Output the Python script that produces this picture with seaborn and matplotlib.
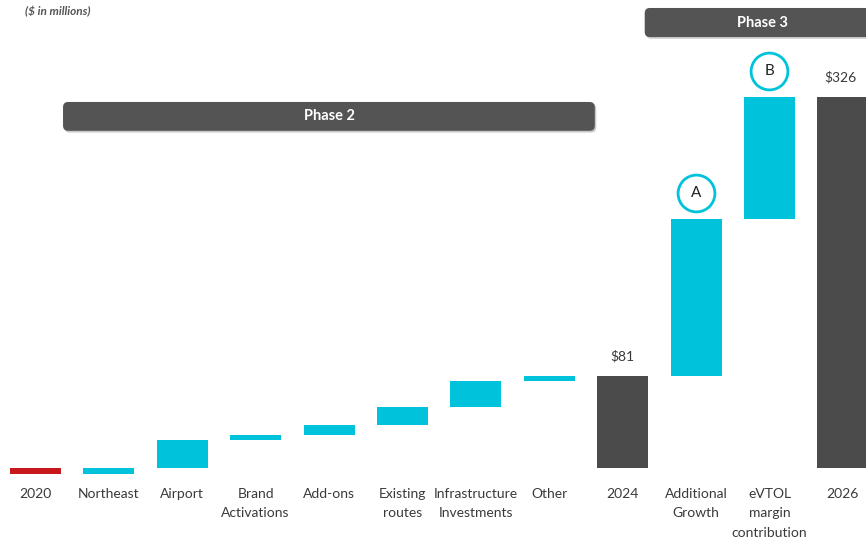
import matplotlib
matplotlib.use("Agg")
import matplotlib.pyplot as plt
from matplotlib.patches import FancyBboxPatch
from matplotlib.transforms import ScaledTranslation
import numpy as np
import pandas as pd
import seaborn as sns

# ---- data ($ in millions) ----
categories = ["2020", "Northeast", "Airport", "Brand\nActivations", "Add-ons",
              "Existing\nroutes", "Infrastructure\nInvestments", "Other", "2024",
              "Additional\nGrowth", "eVTOL\nmargin\ncontribution", "2026"]
value_2020 = -5
phase2_steps = [5, 25, 4, 9, 16, 23, 4]
value_2024 = 81
phase3_steps = [138, 107]
value_2026 = 326
phase3_tags = ["A", "B"]

# ---- build waterfall table ----
bottoms, heights, kinds = [0], [value_2020], ["start"]
level = value_2020
for s in phase2_steps:
    bottoms.append(level); heights.append(s); kinds.append("step"); level += s
bottoms.append(0); heights.append(value_2024); kinds.append("total")
level = value_2024
for s in phase3_steps:
    bottoms.append(level); heights.append(s); kinds.append("step"); level += s
bottoms.append(0); heights.append(value_2026); kinds.append("total")
df = pd.DataFrame({"category": categories, "bottom": bottoms,
                   "height": heights, "kind": kinds})
df["x"] = np.arange(len(df))

CYAN = "#00C3DB"
DARK = "#4b4b4b"
RED = "#C8181E"
BANNER = "#545454"
TEXT = "#3a3a3a"
palette = {"start": RED, "step": CYAN, "total": DARK}

sns.set_theme(style="white")
plt.rcParams["font.family"] = ["Lato", "DejaVu Sans"]

fig = plt.figure(figsize=(8.66, 5.39), dpi=100)
ax = fig.add_axes([0, 0.1058, 1, 0.8942])

ax.bar(df["x"], df["height"], bottom=df["bottom"], width=0.695,
       color=[palette[k] for k in df["kind"]], linewidth=0, zorder=2)

ax.set_xlim(-0.4837, 11.315)
ax.set_ylim(-12, 411)
ax.set_xticks(df["x"])
ax.set_xticklabels(df["category"], fontsize=10, color=TEXT, linespacing=1.75)
ax.tick_params(axis="x", length=0, pad=4)
ax.set_yticks([])
sns.despine(ax=ax, left=True, bottom=True)

# totals labels
for _, r in df[df["kind"] == "total"].iterrows():
    ax.annotate(f"${r['height']:.0f}", xy=(r["x"], r["bottom"] + r["height"]),
                xytext=(-2 if r["x"] == 11 else 0, 14), textcoords="offset points",
                ha="center", va="center", fontsize=10, color=TEXT)

# circled tags above phase 3 steps
tag_rows = df.iloc[9:11]
for tag, (_, r) in zip(phase3_tags, tag_rows.iterrows()):
    top = r["bottom"] + r["height"]
    tr = ax.transData + ScaledTranslation(0, 0.26, fig.dpi_scale_trans)
    ax.plot([r["x"]], [top], marker="o", markersize=26.5, markerfacecolor="white",
            markeredgecolor=CYAN, markeredgewidth=2.0, transform=tr, zorder=3,
            clip_on=False)
    ax.text(r["x"], top, tag, transform=tr, ha="center", va="center",
            fontsize=11, color="#222222", zorder=4)

# phase banners
aspect = (1 / 1.1395) / (1 / 73.4)


def banner(x0, x1, y0, y1, label, tx):
    shadow = FancyBboxPatch((x0 + 0.02, y0 - 1.5), x1 - x0, y1 - y0,
                            boxstyle="round,pad=0,rounding_size=0.07",
                            mutation_aspect=aspect, fc="#c8c8c8", ec="none",
                            zorder=1)
    ax.add_patch(shadow)
    box = FancyBboxPatch((x0, y0), x1 - x0, y1 - y0,
                         boxstyle="round,pad=0,rounding_size=0.07",
                         mutation_aspect=aspect, fc=BANNER, ec="none", zorder=2)
    ax.add_patch(box)
    ax.text(tx, (y0 + y1) / 2, label, ha="center", va="center", fontsize=10.5,
            fontweight="bold", color="white", zorder=3)


banner(0.375, 7.62, 296.2, 321.5, "Phase 2", 4.0)
banner(8.30, 11.49, 378.5, 404.0, "Phase 3", 9.9)

fig.text(0.029, 0.978, "($ in millions)", fontsize=8.5, style="italic",
         fontweight="bold", color="#555555", ha="left", va="center")

fig.savefig("out.png", dpi=100)
